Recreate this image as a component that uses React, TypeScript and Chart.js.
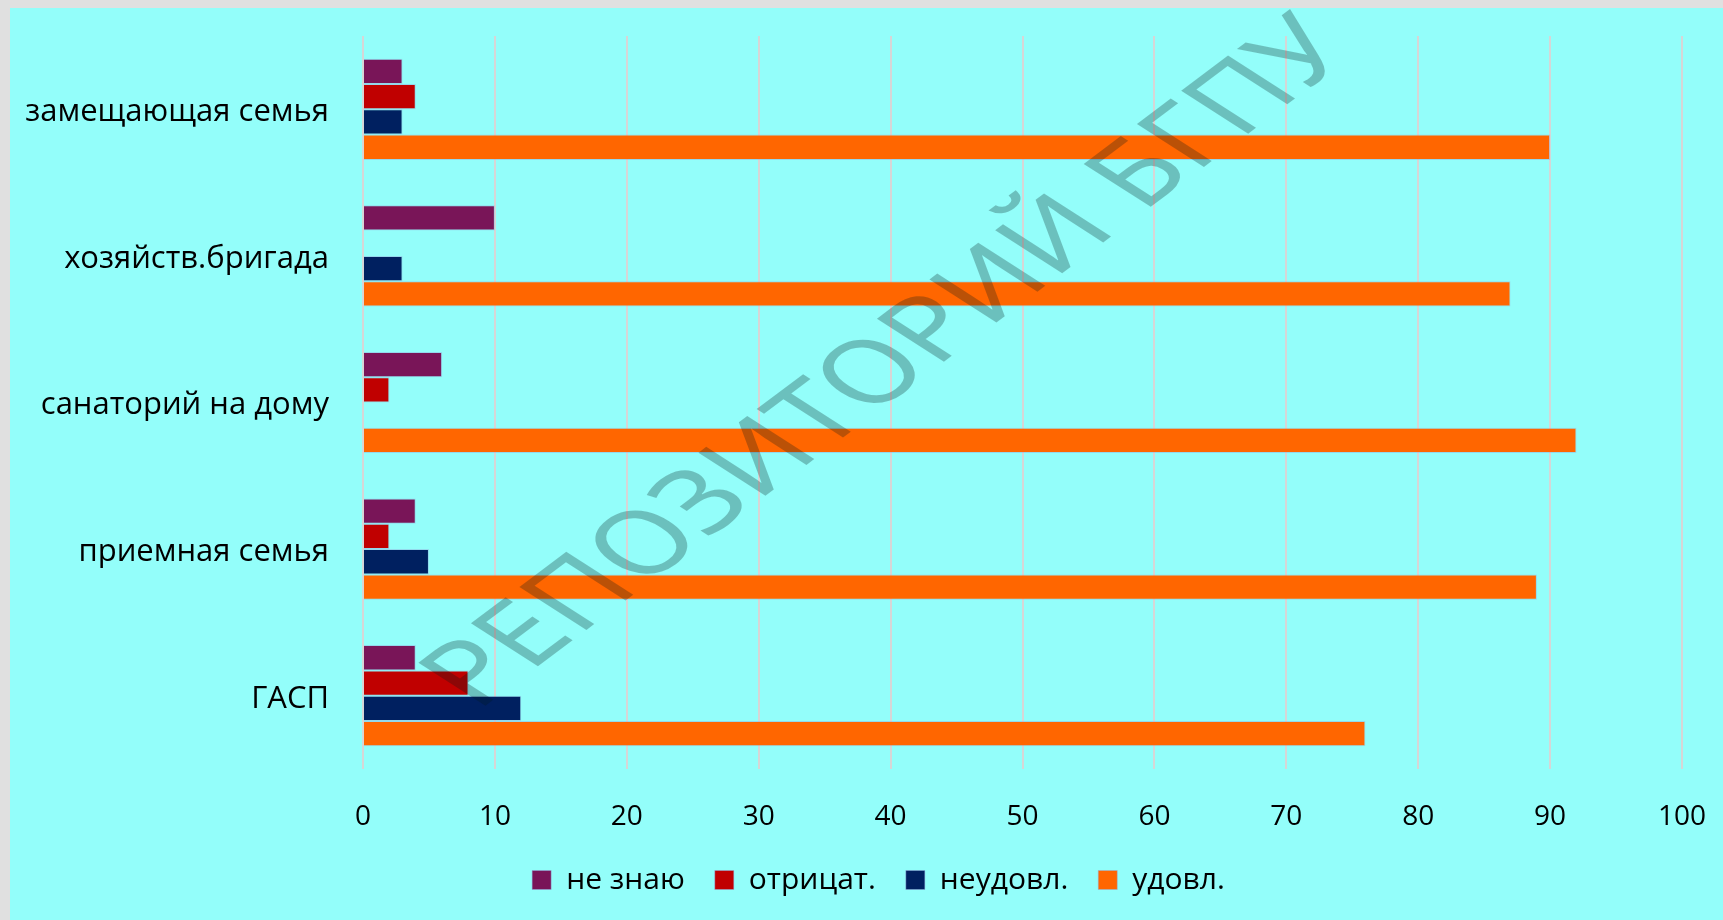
import React, { useEffect, useRef } from "react";
import { Chart, registerables } from "chart.js";

Chart.register(...registerables);

// ---- data ----
const categories = ["замещающая семья", "хозяйств.бригада", "санаторий на дому", "приемная семья", "ГАСП"];
const seriesNames = ["не знаю", "отрицат.", "неудовл.", "удовл."];
const neZnayu = [3, 10, 6, 4, 4];
const otricat = [4, 0, 2, 2, 8];
const neudovl = [3, 3, 0, 5, 12];
const udovl = [90, 87, 92, 89, 76];
const seriesColors = ["#791558", "#C00000", "#002060", "#FF6600"];
const xMin = 0;
const xMax = 100;
const xStep = 10;
const watermarkText = "РЕПОЗИТОРИЙ БГПУ";

const FONT = '"Open Sans", "Noto Sans", sans-serif';

const watermarkPlugin = {
  id: "watermark",
  afterDraw(chart: any) {
    const ctx = chart.ctx as CanvasRenderingContext2D;
    ctx.save();
    const F = 100;
    ctx.font = `${F}px "Noto Sans", sans-serif`;
    const W = ctx.measureText(watermarkText).width;
    const C = 0.714 * F;
    const bx = 880, by = -660;
    const dx = 67, dy = 43;
    ctx.setTransform(bx / W, by / W, dx / C, dy / C, 467, 704);
    ctx.fillStyle = "rgba(0, 25, 25, 0.27)";
    ctx.textBaseline = "alphabetic";
    ctx.textAlign = "left";
    ctx.fillText(watermarkText, 0, 0);
    ctx.restore();
  },
};

const legendShiftPlugin = {
  id: "legendShift",
  afterLayout(chart: any) {
    const lg = chart.legend;
    if (!lg) return;
    const right = chart.chartArea.right;
    lg.left = 65;
    lg.right = right;
    lg.width = right - 65;
  },
};

export default function App() {
  const canvasRef = useRef<HTMLCanvasElement | null>(null);

  useEffect(() => {
    if (!canvasRef.current) return;
    const values = [neZnayu, otricat, neudovl, udovl];
    const chart = new Chart(canvasRef.current, {
      type: "bar",
      data: {
        labels: categories,
        datasets: seriesNames.map((name, i) => ({
          label: name,
          data: values[i],
          backgroundColor: seriesColors[i],
          borderColor: "rgba(150,170,220,0.45)",
          borderWidth: 1,
          categoryPercentage: 0.69,
          barPercentage: 1,
        })),
      },
      options: {
        indexAxis: "y",
        responsive: false,
        animation: false,
        layout: { padding: { left: 0, right: 41, top: 28, bottom: 15 } },
        scales: {
          x: {
            min: xMin,
            max: xMax,
            ticks: {
              stepSize: xStep,
              padding: 31,
              color: "#000",
              font: { family: FONT, size: 28 },
            },
            grid: { color: "#D6D6D6", lineWidth: 2, drawTicks: false },
            border: { display: false },
            afterFit: (s: any) => {
              s.height = 66;
              s.paddingLeft = 0;
              s.paddingRight = 0;
            },
          },
          y: {
            ticks: {
              padding: 34,
              labelOffset: 3,
              color: "#000",
              font: { family: FONT, size: 31 },
            },
            grid: { display: false, drawTicks: false },
            border: { display: false },
            afterFit: (s: any) => {
              s.width = 353;
              s.paddingTop = 0;
              s.paddingBottom = 0;
            },
          },
        },
        plugins: {
          legend: {
            position: "bottom",
            labels: {
              boxWidth: 19,
              boxHeight: 19,
              padding: 30,
              color: "#000",
              font: { family: FONT, size: 30 },
            },
          },
          tooltip: { enabled: false },
        },
      },
      plugins: [legendShiftPlugin, watermarkPlugin],
    } as any);
    return () => chart.destroy();
  }, []);

  return (
    <div style={{ position: "fixed", inset: 0, background: "#E0E0E0" }}>
      <div
        style={{
          position: "absolute",
          left: 10,
          top: 8,
          width: 1713,
          height: 912,
          background: "#93FEFA",
        }}
      >
        <canvas ref={canvasRef} width={1713} height={912} style={{ display: "block" }} />
      </div>
    </div>
  );
}
